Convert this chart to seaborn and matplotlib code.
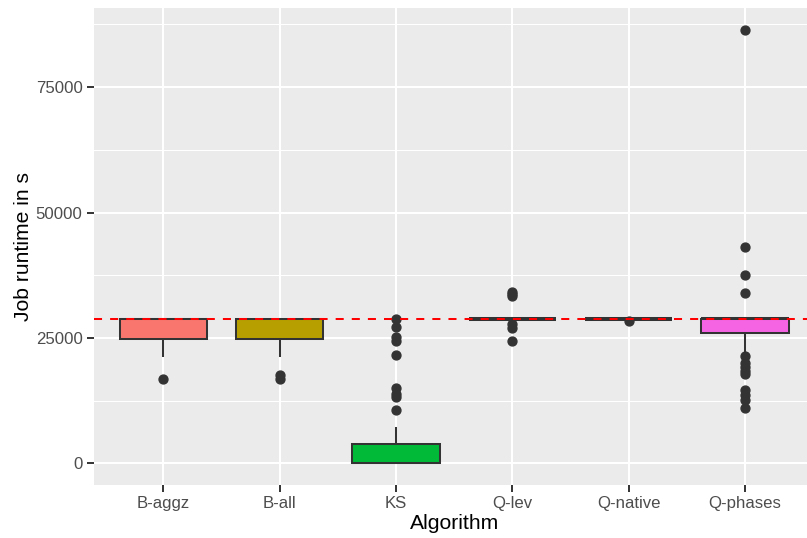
import numpy as np
import pandas as pd
import matplotlib
matplotlib.use("Agg")
import matplotlib.pyplot as plt
import seaborn as sns

algorithms = ["B-aggz", "B-all", "KS", "Q-lev", "Q-native", "Q-phases"]
colors = ["#F8766D", "#B79F00", "#00BA38", "#00BFC4", "#619CFF", "#F564E3"]

b_aggz = [16800, 21300, 23000, 24000, 24500, 24800, 25500, 26500, 27500, 28000,
          28500, 28600, 28700, 28700, 28800, 28800, 28800, 28800, 28800, 28800, 28800]
b_all = [16800, 17600, 21300, 23500, 24400, 24800, 25500, 26500, 27200, 27800,
         28300, 28400, 28500, 28600, 28700, 28800, 28800, 28800, 28800, 28800, 28800]
ks = [30, 40, 50, 50, 60, 60, 70, 80, 90, 90, 100, 130, 160, 190, 220, 250, 280, 300,
      320, 340, 350, 500, 700, 1000, 1300, 1700, 2100, 2600, 3000, 3500, 3900, 7200,
      10600, 13300, 13900, 15000, 21700, 24400, 25100, 27100, 28800]
q_lev = [24300, 26900, 27700, 28800, 28800, 28800, 28800, 28800, 28800, 28800,
         28800, 28800, 28800, 28800, 28800, 28800, 28800, 28800, 28800, 28800,
         28800, 28800, 28800, 28800, 28800, 28800, 28800, 33400, 33800, 34200]
q_native = [28400, 28800, 28800, 28800, 28800, 28800, 28800, 28800, 28800, 28800,
            28800, 28800, 28800, 28800, 28800, 28800]
q_phases = [11000, 12600, 13600, 14700, 17800, 18400, 19200, 20000, 21400, 21700,
            23500, 25000, 25900, 26200, 26500, 26800, 27100, 27400, 27700, 28000,
            28200, 28400, 28600, 28700, 28800, 28800, 28800, 28800, 28800, 28800,
            28800, 28800, 28800, 28800, 28800, 28800, 28800, 28800, 28800, 28800,
            28800, 28800, 28800, 28800, 28800, 34000, 37500, 43200, 86400]
time_limit = 28800
y_ticks = [0, 25000, 50000, 75000]
y_minor = [12500, 37500, 62500, 87500]

series = [b_aggz, b_all, ks, q_lev, q_native, q_phases]
df = pd.DataFrame({
    "Algorithm": [a for a, s in zip(algorithms, series) for _ in s],
    "runtime": [v for s in series for v in s],
})

plt.rcParams["font.family"] = ["Liberation Sans", "DejaVu Sans"]

W, H = 807, 538
fig = plt.figure(figsize=(W / 100, H / 100), dpi=100)
left, right, top, bottom = 93.7, 814.8, 8.3, 485.0
ax = fig.add_axes([left / W, (H - bottom) / H, (right - left) / W, (bottom - top) / H])
ax.set_facecolor("#EBEBEB")
for s in ax.spines.values():
    s.set_visible(False)

sns.boxplot(data=df, x="Algorithm", y="runtime", hue="Algorithm", order=algorithms,
            hue_order=algorithms, palette=colors, width=0.75, saturation=1,
            linecolor="#333333", linewidth=1.45, fliersize=6.4, showcaps=False,
            legend=False, ax=ax,
            flierprops=dict(marker="o", markerfacecolor="#333333",
                            markeredgecolor="#333333"),
            medianprops=dict(linewidth=2.9),
            boxprops=dict(zorder=3), whiskerprops=dict(zorder=3))

ax.axhline(time_limit, color="#FF0000", linewidth=1.45, linestyle=(0, (4, 4)), zorder=10)

ax.set_xlim(-0.6, 5.6)
ax.set_ylim(-4300, 90700)
ax.set_yticks(y_ticks)
ax.set_yticklabels([str(t) for t in y_ticks])
ax.set_yticks(y_minor, minor=True)
ax.grid(which="major", color="white", linewidth=1.45, zorder=0)
ax.grid(which="minor", axis="y", color="white", linewidth=0.72, zorder=0)
ax.set_axisbelow(True)
ax.tick_params(which="major", length=5.0, width=1.4, color="#333333",
               labelcolor="#4D4D4D", labelsize=12.1, pad=3.0)
ax.tick_params(which="minor", length=0)
ax.set_xlabel("Algorithm", fontsize=15.2, color="black", labelpad=2)
ax.set_ylabel("Job runtime in s", fontsize=15.2, color="black", labelpad=2)

fig.savefig("out.png", dpi=100)
